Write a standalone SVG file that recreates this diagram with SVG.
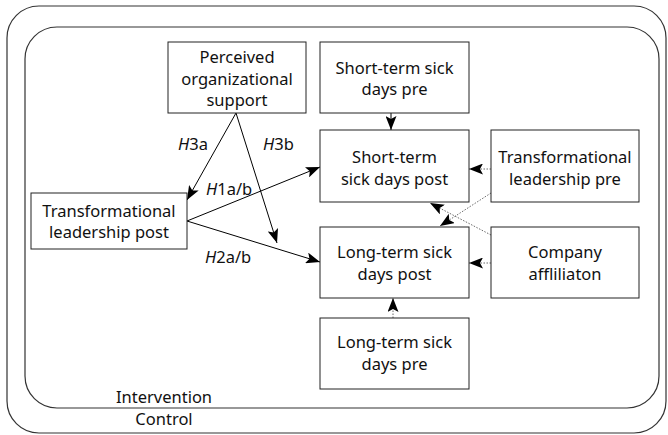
<svg xmlns="http://www.w3.org/2000/svg" width="668" height="435" viewBox="0 0 668 435">
<style>
.box{fill:#fff;stroke:#222;stroke-width:1}
.frame{fill:none;stroke:#333;stroke-width:1.2}
text{font-family:"Noto Sans","Liberation Sans",sans-serif;font-size:16.5px;fill:#111;text-anchor:middle}
.lbl{text-anchor:start}
.e{fill:none;stroke:#000;stroke-width:1}
.d{fill:none;stroke:#444;stroke-width:0.8;stroke-dasharray:1.5 1.5}
</style>
<defs>
<marker id="ah" markerUnits="userSpaceOnUse" markerWidth="15" markerHeight="11" refX="14" refY="5.5" orient="auto">
<path d="M0,0 L14,5.5 L0,11 L3,5.5 Z" fill="#000"/>
</marker>
</defs>
<g id="frames">
<rect class="frame" x="7" y="6" width="659" height="427" rx="32" ry="32"/>
<rect class="frame" x="25" y="27" width="634" height="381" rx="32" ry="32"/>
<text x="164" y="403">Intervention</text>
<text x="164" y="425">Control</text>
</g>
<g id="connectors">
<line class="e" x1="236" y1="113" x2="187" y2="200" marker-end="url(#ah)"/>
<line class="e" x1="236" y1="113" x2="277" y2="243" marker-end="url(#ah)"/>
<line class="e" x1="187" y1="221" x2="320" y2="167" marker-end="url(#ah)"/>
<line class="e" x1="187" y1="221" x2="320" y2="262" marker-end="url(#ah)"/>
<line class="e" x1="391" y1="113" x2="391" y2="130" marker-end="url(#ah)"/>
<line class="d" x1="393" y1="318" x2="393" y2="298" marker-end="url(#ah)"/>
<line class="d" x1="491" y1="169" x2="469" y2="169" marker-end="url(#ah)"/>
<line class="d" x1="491" y1="263" x2="469" y2="263" marker-end="url(#ah)"/>
<line class="d" x1="491" y1="193" x2="440" y2="226" marker-end="url(#ah)"/>
<line class="d" x1="491" y1="235" x2="430" y2="203" marker-end="url(#ah)"/>
<text class="lbl" x="178" y="150"><tspan font-style="italic">H</tspan>3a</text>
<text class="lbl" x="263" y="150"><tspan font-style="italic">H</tspan>3b</text>
<text class="lbl" x="206" y="195"><tspan font-style="italic">H</tspan>1a/b</text>
<text class="lbl" x="205" y="263"><tspan font-style="italic">H</tspan>2a/b</text>
</g>
<g id="pos">
<rect class="box" x="168" y="42" width="138" height="71"/>
<text x="237" y="63">Perceived</text>
<text x="237" y="85">organizational</text>
<text x="237" y="106">support</text>
</g>
<g id="stpre">
<rect class="box" x="320" y="42" width="149" height="71"/>
<text x="394.5" y="74">Short-term sick</text>
<text x="394.5" y="95">days pre</text>
</g>
<g id="stpost">
<rect class="box" x="320" y="130" width="149" height="72"/>
<text x="394.5" y="163">Short-term</text>
<text x="394.5" y="185">sick days post</text>
</g>
<g id="tlpre">
<rect class="box" x="491" y="130" width="148" height="72"/>
<text x="565" y="163">Transformational</text>
<text x="565" y="185">leadership pre</text>
</g>
<g id="tlpost">
<rect class="box" x="31" y="193" width="156" height="56"/>
<text x="109" y="217">Transformational</text>
<text x="109" y="238">leadership post</text>
</g>
<g id="ltpost">
<rect class="box" x="320" y="227" width="149" height="71"/>
<text x="394.5" y="258">Long-term sick</text>
<text x="394.5" y="280">days post</text>
</g>
<g id="company">
<rect class="box" x="491" y="227" width="148" height="71"/>
<text x="565" y="258">Company</text>
<text x="565" y="280">affliliaton</text>
</g>
<g id="ltpre">
<rect class="box" x="320" y="318" width="149" height="71"/>
<text x="394.5" y="348">Long-term sick</text>
<text x="394.5" y="370">days pre</text>
</g>
</svg>
